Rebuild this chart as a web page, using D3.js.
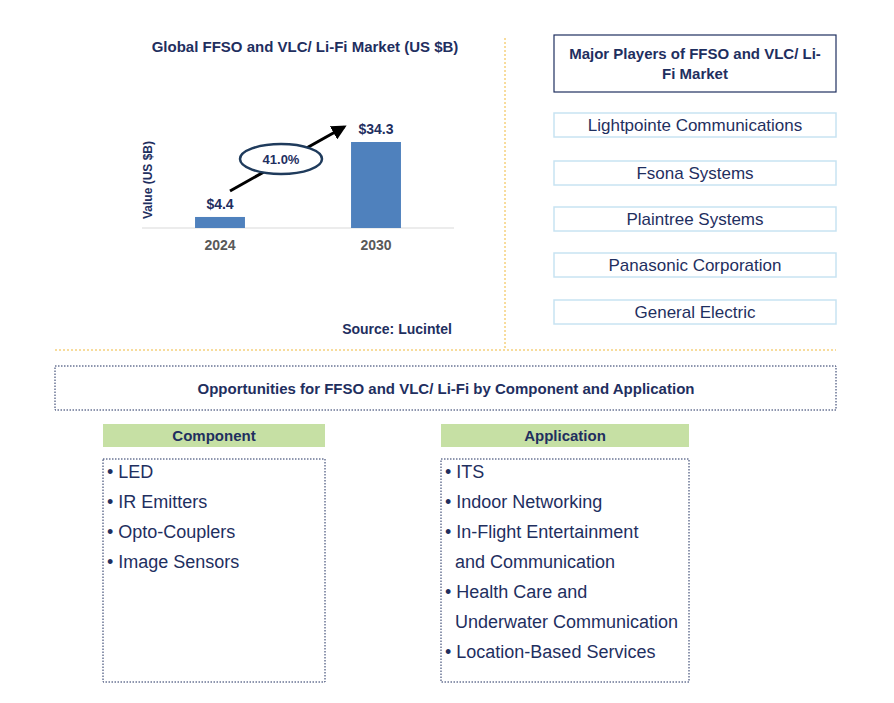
<!DOCTYPE html>
<html><head><meta charset="utf-8">
<script src="https://cdn.jsdelivr.net/npm/d3@7"></script>
<style>body{margin:0;background:#fff}text{font-family:Arial,"Liberation Sans",sans-serif}</style>
</head><body><svg width="894" height="703"></svg>
<script>
var years = ['2024', '2030'];
var values = [4.4, 34.3];
var cagr = '41.0%';
var players = ['Lightpointe Communications', 'Fsona Systems', 'Plaintree Systems', 'Panasonic Corporation', 'General Electric'];
var components = ['LED', 'IR Emitters', 'Opto-Couplers', 'Image Sensors'];
var applications = ['ITS', 'Indoor Networking', 'In-Flight Entertainment', ' and Communication', 'Health Care and', ' Underwater Communication', 'Location-Based Services'];

var navy = '#1f2f5f';
var svg = d3.select('svg');

// separators
svg.append('line').attr('x1', 505).attr('x2', 505).attr('y1', 38).attr('y2', 350)
  .attr('stroke', '#f0b93a').attr('stroke-dasharray', '2,2');
svg.append('line').attr('x1', 55).attr('x2', 836).attr('y1', 350).attr('y2', 350)
  .attr('stroke', '#f0b93a').attr('stroke-dasharray', '2,2');

// chart
svg.append('text').attr('x', 305).attr('y', 52).attr('text-anchor', 'middle')
  .attr('font-size', 15).attr('font-weight', 'bold').attr('fill', navy)
  .text('Global FFSO and VLC/ Li-Fi Market (US $B)');

var x = d3.scaleBand().domain(years).range([142, 454]).paddingInner(0.68).paddingOuter(0.34);
var y = d3.scaleLinear().domain([0, 34.3]).range([228, 142]);

svg.append('line').attr('x1', 142).attr('x2', 454).attr('y1', 228).attr('y2', 228).attr('stroke', '#d9d9d9');
svg.selectAll('rect.bar').data(values).enter().append('rect').attr('class', 'bar')
  .attr('x', function(d, i){ return x(years[i]); })
  .attr('y', function(d){ return y(d); })
  .attr('width', x.bandwidth())
  .attr('height', function(d){ return 228 - y(d); })
  .attr('fill', '#4f81bd');
svg.selectAll('text.val').data(values).enter().append('text').attr('class', 'val')
  .attr('x', function(d, i){ return x(years[i]) + x.bandwidth() / 2; })
  .attr('y', function(d){ return y(d) - 8; })
  .attr('text-anchor', 'middle').attr('font-size', 14).attr('font-weight', 'bold').attr('fill', navy)
  .text(function(d){ return '$' + d; });
svg.selectAll('text.yr').data(years).enter().append('text').attr('class', 'yr')
  .attr('x', function(d){ return x(d) + x.bandwidth() / 2; })
  .attr('y', 250).attr('text-anchor', 'middle').attr('font-size', 14).attr('font-weight', 'bold').attr('fill', '#595959')
  .text(function(d){ return d; });
svg.append('text').attr('transform', 'translate(152,180) rotate(-90)').attr('text-anchor', 'middle')
  .attr('font-size', 12).attr('font-weight', 'bold').attr('fill', navy).text('Value (US $B)');

svg.append('defs').append('marker').attr('id', 'ah').attr('viewBox', '0 0 10 10').attr('refX', 8).attr('refY', 5)
  .attr('markerWidth', 5).attr('markerHeight', 5).attr('orient', 'auto')
  .append('path').attr('d', 'M0,0L10,5L0,10z').attr('fill', '#000');
svg.append('line').attr('x1', 230).attr('y1', 191).attr('x2', 344).attr('y2', 127)
  .attr('stroke', '#000').attr('stroke-width', 3).attr('marker-end', 'url(#ah)');
svg.append('ellipse').attr('cx', 281).attr('cy', 159).attr('rx', 41).attr('ry', 15)
  .attr('fill', '#fff').attr('stroke', '#1f3b5c').attr('stroke-width', 2.5);
svg.append('text').attr('x', 281).attr('y', 164).attr('text-anchor', 'middle').attr('font-size', 13)
  .attr('font-weight', 'bold').attr('fill', navy).text(cagr);
svg.append('text').attr('x', 397).attr('y', 334).attr('text-anchor', 'middle').attr('font-size', 14)
  .attr('font-weight', 'bold').attr('fill', navy).text('Source: Lucintel');

// players
svg.append('rect').attr('x', 554).attr('y', 35).attr('width', 282).attr('height', 57)
  .attr('fill', 'none').attr('stroke', navy).attr('stroke-width', 1.2);
svg.append('text').attr('x', 695).attr('y', 59).attr('text-anchor', 'middle').attr('font-size', 15)
  .attr('font-weight', 'bold').attr('fill', navy).text('Major Players of FFSO and VLC/ Li-');
svg.append('text').attr('x', 695).attr('y', 79).attr('text-anchor', 'middle').attr('font-size', 15)
  .attr('font-weight', 'bold').attr('fill', navy).text('Fi Market');
var py = [125, 173, 219, 265, 312];
var pg = svg.selectAll('g.pl').data(players).enter().append('g').attr('class', 'pl')
  .attr('transform', function(d, i){ return 'translate(0,' + py[i] + ')'; });
pg.append('rect').attr('x', 554).attr('y', -12).attr('width', 282).attr('height', 24)
  .attr('fill', '#fff').attr('stroke', '#c8e3f2').attr('stroke-width', 1.5);
pg.append('text').attr('x', 695).attr('y', 6).attr('text-anchor', 'middle').attr('font-size', 17)
  .attr('fill', navy).text(function(d){ return d; });

// opportunities
svg.append('rect').attr('x', 55).attr('y', 366).attr('width', 781).attr('height', 44)
  .attr('fill', 'none').attr('stroke', navy).attr('stroke-dasharray', '1.5,1.5');
svg.append('text').attr('x', 446).attr('y', 394).attr('text-anchor', 'middle').attr('font-size', 15)
  .attr('font-weight', 'bold').attr('fill', navy).text('Opportunities for FFSO and VLC/ Li-Fi by Component and Application');

function panel(x0, w, title, items) {
  svg.append('rect').attr('x', x0).attr('y', 424).attr('width', w).attr('height', 23).attr('fill', '#c6e0a4');
  svg.append('text').attr('x', x0 + w / 2).attr('y', 441).attr('text-anchor', 'middle').attr('font-size', 15)
    .attr('font-weight', 'bold').attr('fill', navy).text(title);
  svg.append('rect').attr('x', x0).attr('y', 459).attr('width', w).attr('height', 223)
    .attr('fill', 'none').attr('stroke', navy).attr('stroke-dasharray', '1.5,1.5');
  svg.selectAll(null).data(items).enter().append('text')
    .attr('x', x0 + 4).attr('y', function(d, i){ return 478 + i * 30; })
    .attr('font-size', 18).attr('fill', navy).attr('xml:space', 'preserve')
    .text(function(d){ return d.charAt(0) === ' ' ? '  ' + d.trim() : '\u2022 ' + d; });
}
panel(103, 222, 'Component', components);
panel(441, 248, 'Application', applications);
</script></body></html>
